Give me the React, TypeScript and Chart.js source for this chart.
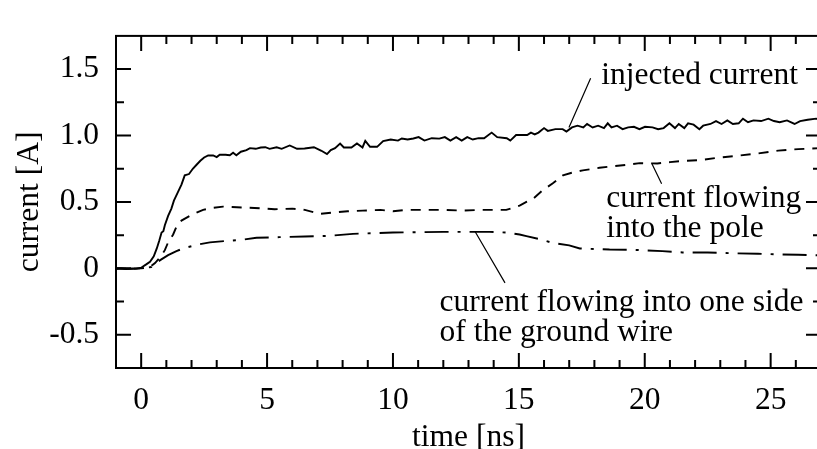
import { useEffect, useRef } from "react";
import { Chart, registerables } from "chart.js";

Chart.register(...registerables);

// Injected current (solid), time in ns and current in A
const injectedTime = [
  -1.0, -0.8, -0.6, -0.4, -0.2, 0.0, 0.2, 0.35, 0.5, 0.62, 0.72, 0.81, 0.88, 0.94, 1.07, 1.2, 1.3, 1.45,
  1.6, 1.73, 1.9, 2.05, 2.2, 2.35, 2.5, 2.66, 2.86, 3.0, 3.12, 3.35, 3.52, 3.65, 3.78, 3.96, 4.18, 4.32,
  4.55, 4.75, 4.93, 5.1, 5.38, 5.58, 5.9, 6.19, 6.49, 6.86, 7.16, 7.38, 7.53, 7.7, 7.9, 8.05, 8.35, 8.57,
  8.79, 8.9, 9.09, 9.37, 9.61, 9.91, 10.2, 10.35, 10.58, 10.81, 11.02, 11.25, 11.54, 11.84, 12.06, 12.28,
  12.51, 12.73, 12.95, 13.17, 13.4, 13.62, 13.92, 14.14, 14.52, 14.66, 14.89, 15.33, 15.48, 15.63, 15.78,
  16.0, 16.15, 16.45, 16.74, 16.89, 17.11, 17.33, 17.56, 17.71, 17.93, 18.15, 18.38, 18.53, 18.68, 18.9,
  19.12, 19.34, 19.57, 19.79, 20.01, 20.31, 20.53, 20.75, 20.98, 21.2, 21.35, 21.57, 21.72, 21.94, 22.17,
  22.32, 22.61, 22.83, 23.05, 23.28, 23.5, 23.73, 23.9, 24.1, 24.32, 24.62, 24.91, 25.13, 25.36, 25.65,
  25.95, 26.17, 26.47, 26.81, 27.0,
];
const injectedCurrent = [
  -0.005, 0.0, -0.006, -0.003, -0.002, 0.005, 0.03, 0.05, 0.09, 0.15, 0.21, 0.27, 0.28, 0.325, 0.395, 0.45,
  0.51, 0.57, 0.63, 0.7, 0.71, 0.75, 0.78, 0.81, 0.835, 0.85, 0.85, 0.838, 0.855, 0.855, 0.852, 0.87, 0.852,
  0.878, 0.89, 0.905, 0.9, 0.91, 0.912, 0.9, 0.912, 0.9, 0.925, 0.9, 0.902, 0.912, 0.885, 0.86, 0.89, 0.905,
  0.94, 0.91, 0.91, 0.94, 0.91, 0.96, 0.915, 0.915, 0.958, 0.97, 0.962, 0.978, 0.97, 0.978, 0.988, 0.962,
  0.98, 0.977, 0.988, 0.962, 0.988, 0.962, 0.988, 0.97, 0.98, 0.98, 1.022, 0.988, 0.98, 0.962, 1.004, 1.004,
  1.022, 1.009, 1.022, 1.056, 1.035, 1.048, 1.048, 1.03, 1.061, 1.074, 1.061, 1.088, 1.061, 1.074, 1.056,
  1.092, 1.061, 1.074, 1.048, 1.061, 1.066, 1.048, 1.066, 1.061, 1.048, 1.056, 1.092, 1.056, 1.087, 1.056,
  1.092, 1.082, 1.048, 1.074, 1.087, 1.109, 1.087, 1.114, 1.087, 1.092, 1.127, 1.1, 1.114, 1.109, 1.127,
  1.109, 1.1, 1.114, 1.087, 1.109, 1.119, 1.127, 1.115,
];

// Current flowing into the pole (dashed)
const poleTime = [
  -1.0, -0.5, 0.0, 0.35, 0.55, 0.74, 0.94, 1.07, 1.27, 1.4, 1.6, 1.93, 2.2, 2.46, 2.8, 3.25, 3.8, 4.5, 5.3,
  6.0, 6.5, 7.1, 7.6, 8.2, 8.8, 9.5, 10.0, 10.5, 11.0, 12.0, 12.8, 13.5, 14.0, 14.5, 15.03, 15.3, 15.56,
  15.95, 16.35, 16.75, 17.1, 17.54, 18.2, 18.8, 19.3, 19.8, 20.5, 21.0, 21.6, 22.2, 22.8, 23.3, 23.8, 24.5,
  25.3, 26.1, 27.0,
];
const poleCurrent = [
  0.0, -0.003, 0.0, 0.01, 0.04, 0.08, 0.137, 0.196, 0.255, 0.313, 0.36, 0.395, 0.42, 0.44, 0.455, 0.465,
  0.46, 0.455, 0.445, 0.45, 0.44, 0.41, 0.42, 0.43, 0.435, 0.44, 0.43, 0.44, 0.44, 0.44, 0.435, 0.44, 0.44,
  0.44, 0.472, 0.5, 0.523, 0.589, 0.64, 0.7, 0.72, 0.738, 0.757, 0.77, 0.78, 0.792, 0.79, 0.8, 0.81, 0.815,
  0.83, 0.84, 0.85, 0.865, 0.886, 0.898, 0.905,
];

// Current flowing into one side of the ground wire (dash-dot)
const groundTime = [
  -1.0, -0.5, 0.0, 0.4, 0.74, 1.07, 1.4, 1.67, 2.2, 2.73, 3.3, 4.0, 4.58, 5.5, 6.5, 7.5, 8.41, 9.2, 10.0,
  11.0, 12.0, 12.9, 13.84, 14.5, 15.03, 15.3, 15.82, 16.35, 17.0, 17.42, 18.6, 19.5, 20.7, 21.5, 22.5, 23.5,
  24.5, 25.3, 26.1, 27.0,
];
const groundCurrent = [
  0.0, -0.003, 0.0, 0.01, 0.06, 0.1, 0.13, 0.15, 0.177, 0.196, 0.205, 0.215, 0.23, 0.235, 0.24, 0.245, 0.26,
  0.265, 0.27, 0.272, 0.275, 0.275, 0.275, 0.27, 0.255, 0.243, 0.22, 0.191, 0.173, 0.15, 0.142, 0.14, 0.13,
  0.12, 0.12, 0.114, 0.11, 0.105, 0.102, 0.098,
];

// Axis ticks
const xMajorTicks = [0, 5, 10, 15, 20, 25];
const xMinorTicks = [1, 2, 3, 4, 6, 7, 8, 9, 11, 12, 13, 14, 16, 17, 18, 19, 21, 22, 23, 24, 26];
const yMajorTicks = [-0.5, 0, 0.5, 1.0, 1.5];
const yMinorTicks = [-0.25, 0.25, 0.75, 1.25];

// Callout texts, anchored in data units (time, current) at the first baseline
const injectedLabel = ["injected current"];
const injectedLabelAt = [18.27, 1.389];
const injectedLeader = [17.85, 1.431, 16.99, 1.06];

const poleLabel = ["current flowing", "into the pole"];
const poleLabelAt = [18.47, 0.465];
const poleLeader = [20.29, 0.785, 20.67, 0.637];

const groundLabel = ["current flowing into one side", "of the ground wire"];
const groundLabelAt = [11.85, -0.318];
const groundLeader = [13.26, 0.278, 14.45, -0.109];

const FONT = "'Liberation Serif', 'Times New Roman', serif";
const FONT_SIZE = 31.5;

const toPoints = (ts: number[], vs: number[]) => ts.map((t, i) => ({ x: t, y: vs[i] }));

const framePlugin = {
  id: "frameAndCallouts",
  afterDatasetsDraw(chart: any) {
    const { ctx, chartArea: a, scales } = chart;
    const xs = scales.x;
    const ys = scales.y;
    ctx.save();
    ctx.strokeStyle = "#000";
    ctx.lineCap = "butt";

    // inward tick marks on all four sides
    ctx.lineWidth = 2;
    ctx.beginPath();
    const xTicks = (vals: number[], len: number) =>
      vals.forEach((v) => {
        const px = xs.getPixelForValue(v);
        ctx.moveTo(px, a.bottom);
        ctx.lineTo(px, a.bottom - len);
        ctx.moveTo(px, a.top);
        ctx.lineTo(px, a.top + len);
      });
    const yTicks = (vals: number[], len: number) =>
      vals.forEach((v) => {
        const py = ys.getPixelForValue(v);
        ctx.moveTo(a.left, py);
        ctx.lineTo(a.left + len, py);
        ctx.moveTo(a.right, py);
        ctx.lineTo(a.right - len, py);
      });
    xTicks(xMajorTicks, 15);
    xTicks(xMinorTicks, 8);
    yTicks(yMajorTicks, 15);
    yTicks(yMinorTicks, 8);
    ctx.stroke();

    // frame
    ctx.strokeRect(a.left, a.top, a.right - a.left, a.bottom - a.top);

    // leader lines
    ctx.lineWidth = 1.2;
    ctx.beginPath();
    [injectedLeader, poleLeader, groundLeader].forEach((l) => {
      ctx.moveTo(xs.getPixelForValue(l[0]), ys.getPixelForValue(l[1]));
      ctx.lineTo(xs.getPixelForValue(l[2]), ys.getPixelForValue(l[3]));
    });
    ctx.stroke();

    // callout texts
    ctx.fillStyle = "#000";
    ctx.font = `${FONT_SIZE}px ${FONT}`;
    ctx.textAlign = "left";
    ctx.textBaseline = "alphabetic";
    const lineGap = 30.5;
    const drawLabel = (lines: string[], at: number[]) => {
      const px = xs.getPixelForValue(at[0]);
      const py = ys.getPixelForValue(at[1]);
      lines.forEach((s, i) => ctx.fillText(s, px, py + i * lineGap));
    };
    drawLabel(injectedLabel, injectedLabelAt);
    drawLabel(poleLabel, poleLabelAt);
    drawLabel(groundLabel, groundLabelAt);
    ctx.restore();
  },
};

export default function App() {
  const canvasRef = useRef<HTMLCanvasElement | null>(null);

  useEffect(() => {
    const canvas = canvasRef.current;
    if (!canvas) return;
    const lineBase = {
      borderColor: "#000",
      borderWidth: 1.9,
      pointRadius: 0,
      tension: 0,
      fill: false,
    };
    const chart = new Chart(canvas, {
      type: "line",
      data: {
        datasets: [
          { ...lineBase, label: "injected current", data: toPoints(injectedTime, injectedCurrent) },
          {
            ...lineBase,
            label: "current flowing into the pole",
            data: toPoints(poleTime, poleCurrent),
            borderDash: [10, 8],
          },
          {
            ...lineBase,
            label: "current flowing into one side of the ground wire",
            data: toPoints(groundTime, groundCurrent),
            borderDash: [24, 9, 3, 9],
          },
        ],
      },
      options: {
        animation: false,
        responsive: false,
        devicePixelRatio: 1,
        layout: { padding: { top: 13, right: 9, left: 0, bottom: 0 } },
        plugins: { legend: { display: false }, tooltip: { enabled: false } },
        scales: {
          x: {
            type: "linear",
            min: -1,
            max: 27,
            grid: { display: false, drawTicks: false },
            border: { display: false },
            afterBuildTicks: (scale: any) => {
              scale.ticks = xMajorTicks.map((v) => ({ value: v }));
            },
            afterFit: (scale: any) => {
              scale.height = 81;
            },
            ticks: {
              color: "#000",
              padding: 13.5,
              maxRotation: 0,
              autoSkip: false,
              font: { family: FONT, size: FONT_SIZE },
              callback: (v: any) => String(v),
            },
            title: {
              display: true,
              text: "time [ns]",
              color: "#000",
              padding: 0,
              font: { family: FONT, size: FONT_SIZE, lineHeight: "23px" },
            },
          },
          y: {
            type: "linear",
            min: -0.75,
            max: 1.75,
            grid: { display: false, drawTicks: false },
            border: { display: false },
            afterBuildTicks: (scale: any) => {
              scale.ticks = yMajorTicks.map((v) => ({ value: v }));
            },
            afterFit: (scale: any) => {
              scale.width = 116;
            },
            ticks: {
              color: "#000",
              padding: 17,
              autoSkip: false,
              font: { family: FONT, size: FONT_SIZE },
              callback: (v: any) => (Number(v) === 0 ? "0" : Number(v).toFixed(1)),
            },
            title: {
              display: true,
              text: "current [A]",
              color: "#000",
              padding: 0,
              font: { family: FONT, size: FONT_SIZE, lineHeight: "60px" },
            },
          },
        },
      },
      plugins: [framePlugin],
    } as any);
    return () => chart.destroy();
  }, []);

  return (
    <div
      style={{
        position: "absolute",
        left: 0,
        top: 0,
        width: 817,
        height: 449,
        overflow: "hidden",
        background: "#fff",
      }}
    >
      <canvas ref={canvasRef} width={830} height={449} style={{ display: "block", width: 830, height: 449 }} />
    </div>
  );
}
